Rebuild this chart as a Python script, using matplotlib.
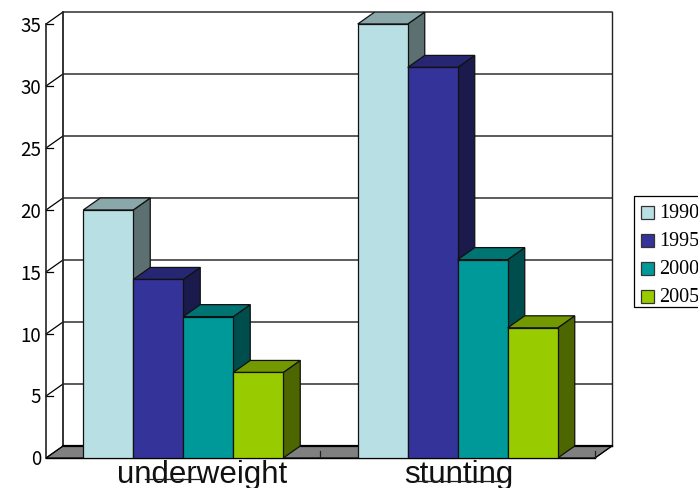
import matplotlib
matplotlib.use('Agg')
import numpy as np
import matplotlib.pyplot as plt
from matplotlib.patches import Polygon, Rectangle
from matplotlib.colors import to_rgb

categories = ['underweight', 'stunting']
years = ['1990', '1995', '2000', '2005']
values_1990 = [20, 35]
values_1995 = [14.4, 31.5]
values_2000 = [11.4, 16]
values_2005 = [6.9, 10.5]
y_ticks = [0, 5, 10, 15, 20, 25, 30, 35]
colors = ['#B8DFE3', '#333399', '#009999', '#99CC00']

W, H = 698, 489
fig = plt.figure(figsize=(W / 100, H / 100), dpi=100)
ax = fig.add_axes([46 / W, (H - 459) / H, (612 - 46) / W, (459 - 13) / H])

# depth of the fake 3d box, in data units
dx = 17 / 274.5
dy = 12 / 12.4
ax.set_xlim(-0.5, 1.5 + dx)
ax.set_ylim(0, 35 + dy)
ax.axis('off')

x0, x1 = -0.5, 1.5
top = y_ticks[-1]


def shade(c, f):
    return tuple(v * f for v in to_rgb(c))


# floor
ax.add_patch(Polygon([(x0, 0), (x1, 0), (x1 + dx, dy), (x0 + dx, dy)],
                     fc='#808080', ec='black', lw=0.8, zorder=1))
ax.plot([x0 + dx, x1 + dx], [dy, dy], color='black', lw=1.6, zorder=2, clip_on=False)

# walls and grid
for t in y_ticks[1:]:
    ax.plot([x0, x0 + dx, x1 + dx], [t, t + dy, t + dy], color='black', lw=0.9, zorder=1, clip_on=False)
    ax.plot([x0, x0 + dx * 0.42], [t, t], color='black', lw=0.9, zorder=1)
ax.plot([x0, x0], [0, top], color='#222222', lw=1.2, zorder=1, clip_on=False)
ax.plot([x0 + dx, x0 + dx], [dy, top + dy], color='#222222', lw=1.3, zorder=1, clip_on=False)
ax.plot([x1 + dx, x1 + dx], [dy, top + dy], color='#222222', lw=1.0, zorder=1, clip_on=False)
ax.plot([x0, x1], [0, 0], color='black', lw=1.0, zorder=2, clip_on=False)
ax.plot([x0, x0 + dx], [0, dy], color='black', lw=0.8, zorder=2)
ax.plot([x1, x1 + dx], [0, dy], color='black', lw=0.8, zorder=2)

# category ticks on the front edge
for x in [0.5, 1.5]:
    ax.plot([x, x], [0, 0.6], color='#222222', lw=0.9, zorder=2)

# bars
series = [values_1990, values_1995, values_2000, values_2005]
bar_w = 50 / 274.5
zo = 3
for g in range(len(categories)):
    for i, vals in enumerate(series):
        v = vals[g]
        c = colors[i]
        left = g + (i - 2) * bar_w
        right = left + bar_w
        ax.add_patch(Polygon([(right, 0), (right + dx, dy), (right + dx, v + dy), (right, v)],
                             fc=shade(c, 0.5), ec='#111111', lw=0.9, zorder=zo))
        ax.add_patch(Polygon([(left, v), (right, v), (right + dx, v + dy), (left + dx, v + dy)],
                             fc=shade(c, 0.75), ec='#111111', lw=0.9, zorder=zo))
        ax.add_patch(Rectangle((left, 0), bar_w, v, fc=c, ec='#111111', lw=0.9, zorder=zo + 1))
        zo += 2

# value axis labels
for t in y_ticks:
    ax.annotate(str(t), (x0, t), xytext=(-5, -1), textcoords='offset pixels',
                ha='right', va='center', fontsize=13.5, family=['Noto Sans CJK SC', 'DejaVu Sans'],
                weight='medium', color='black', annotation_clip=False)

# category labels, set off the front edge of the floor
label_shift = [19, 1.5]
for g, name in enumerate(categories):
    ax.annotate(name, (g, 0), xytext=(label_shift[g], -24), textcoords='offset pixels',
                ha='center', va='baseline', fontsize=22.5, family='Liberation Sans', color='#111111',
                annotation_clip=False)

# dark scratch running through the lower part of each label
scratch_x = [(145, 200), (417, 505)]
scratch_y = [480, 482]
for (a, b), y in zip(scratch_x, scratch_y):
    fig.add_artist(plt.Line2D([a / W, b / W], [1 - y / H, 1 - y / H], color='#222222', lw=0.9))

# legend box, runs off the right side of the canvas
fig_px = fig.transFigure
fig.add_artist(Rectangle((634 / W, (H - 308) / H), 80 / W, 111 / H, transform=fig_px,
                         fc='white', ec='black', lw=0.9))
for i, (year, c) in enumerate(zip(years, colors)):
    yc = 213.5 + i * 28
    fig.add_artist(Rectangle((641 / W, (H - yc - 6.5) / H), 13 / W, 13 / H, transform=fig_px,
                             fc=c, ec='#333333', lw=0.9))
    fig.text(659 / W, 1 - yc / H, year, ha='left', va='center', fontsize=14.5,
             family='Liberation Serif', color='black')

fig.savefig('out.png', dpi=100, facecolor='white')
